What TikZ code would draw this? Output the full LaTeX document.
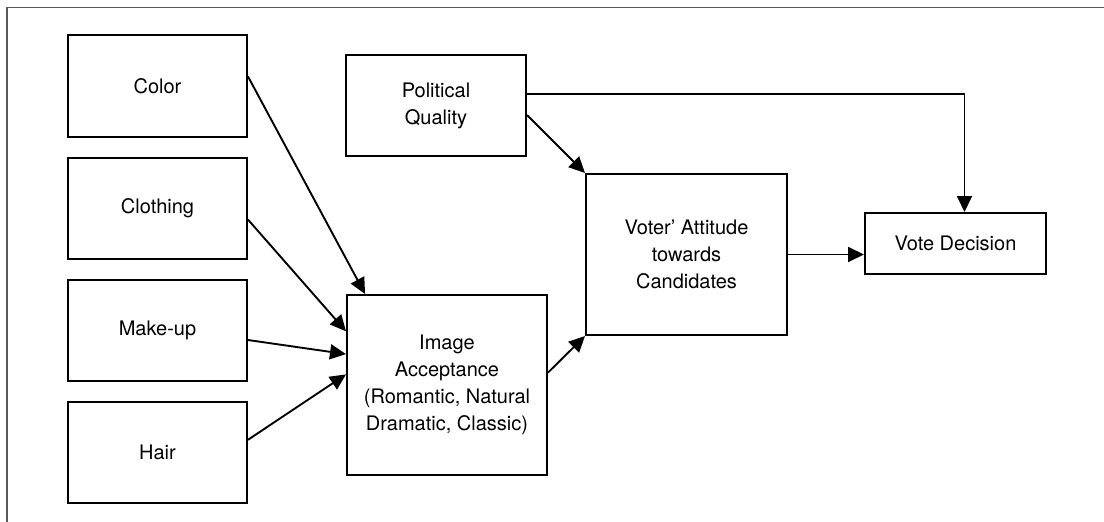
\documentclass[tikz,border=0pt]{standalone}
\usepackage{fontspec}
\setmainfont{TeX Gyre Heros}
\usetikzlibrary{arrows.meta, positioning}

\begin{document}
\begin{tikzpicture}[
    x=1pt, y=-1pt,
    node distance=19pt,
    font=\fontsize{20}{27}\selectfont,
    box/.style={draw, line width=2pt, align=center, inner sep=0pt},
    link/.style={line width=1.9pt, -{Triangle[length=16pt, width=15pt]}},
]
    \useasboundingbox (0,0) rectangle (1104,522);
    % Frame
    \draw[gray!70!black, line width=1.2pt] (7,522) -- (7,7.5) -- (1104,7.5);

    % Nodes
    \node (color) [box, minimum width=179pt, minimum height=102pt] at (157.5,86) {Color};
    \node (clothing) [box, minimum width=179pt, minimum height=101pt, below=of color] {Clothing};
    \node (makeup) [box, minimum width=179pt, minimum height=101pt, below=of clothing] {Make-up};
    \node (hair) [box, minimum width=179pt, minimum height=101pt, below=of makeup] {Hair};

    \node (political) [box, minimum width=180pt, minimum height=101pt] at (436,105.5) {Political\\Quality};
    \node (image) [box, minimum width=200pt, minimum height=180pt] at (447,385)
        {Image\\Acceptance\\(Romantic, Natural\\Dramatic, Classic)};
    \node (attitude) [box, minimum width=201pt, minimum height=161pt] at (686.5,254.5)
        {Voter’ Attitude\\towards\\Candidates};
    \node (vote) [box, minimum width=181pt, minimum height=61pt] at (955.5,243.5) {Vote Decision};

    % Connections
    \draw[link] (color.6) -- (image.132);
    \draw[link] (clothing.-7) -- (image.152);
    \draw[link] (makeup.-6) -- (image.163);
    \draw[link] (hair.8) -- (image.174);

    \draw[link] (political.-6) -- (attitude.north west);
    \draw[link] (political.7) -| ([xshift=9pt]vote.north);
    \draw[link] (image.7) -- (attitude.south west);
    \draw[link] (attitude.east) -- (attitude.east -| vote.west);

\end{tikzpicture}
\end{document}
